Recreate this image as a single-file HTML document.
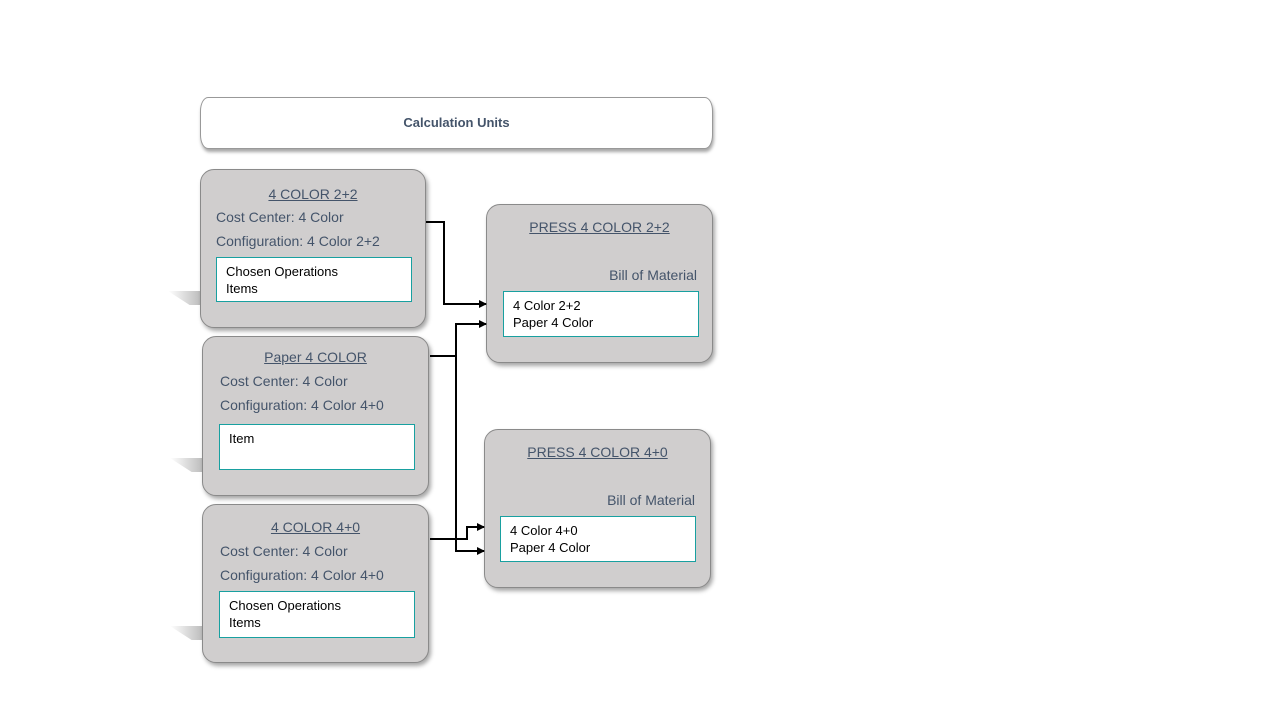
<!DOCTYPE html>
<html><head><meta charset="utf-8"><style>
body{margin:0;width:1280px;height:720px;background:#fff;position:relative;overflow:hidden;font-family:"Liberation Sans",sans-serif}
.hdr{position:absolute;left:200px;top:97px;width:511px;height:50px;border:1px solid #999;border-radius:8px/14px;background:#fff;box-shadow:1px 3px 3px rgba(0,0,0,.35);text-align:center;line-height:50px;font-weight:bold;font-size:13px;color:#44546a}
.box{position:absolute;background:#d0cece;border:1px solid #8a8a8a;border-radius:14px;box-shadow:2px 3px 4px rgba(0,0,0,.35);color:#44546a;font-size:14px}
.t{position:absolute;left:0;right:0;text-align:center;text-decoration:underline}
.l{position:absolute;left:15px;white-space:nowrap}
.r{position:absolute;right:15px;white-space:nowrap}
.in{position:absolute;background:#fff;border:1px solid #18a0a0;color:#000;font-size:13px;line-height:17px;padding:5px 9px;box-sizing:border-box}
.sh{position:absolute;width:36px;height:14px;background:linear-gradient(to right,rgba(255,255,255,0),rgba(150,150,150,.7));clip-path:polygon(0 0,100% 0,100% 100%,60% 100%)}
</style></head><body>
<div class="hdr">Calculation Units</div>

<div class="sh" style="left:168px;top:291px"></div>
<div class="sh" style="left:170px;top:458px"></div>
<div class="sh" style="left:170px;top:626px"></div>

<div class="box" style="left:200px;top:169px;width:224px;height:157px">
<div class="t" style="top:16px">4 COLOR 2+2</div>
<div class="l" style="top:39px">Cost Center: 4 Color</div>
<div class="l" style="top:63px">Configuration: 4 Color 2+2</div>
<div class="in" style="left:15px;top:87px;width:196px;height:45px">Chosen Operations<br>Items</div>
</div>

<div class="box" style="left:202px;top:336px;width:225px;height:158px">
<div class="t" style="top:12px">Paper 4 COLOR</div>
<div class="l" style="top:36px;left:17px">Cost Center: 4 Color</div>
<div class="l" style="top:60px;left:17px">Configuration: 4 Color 4+0</div>
<div class="in" style="left:16px;top:87px;width:196px;height:46px">Item</div>
</div>

<div class="box" style="left:202px;top:504px;width:225px;height:157px">
<div class="t" style="top:14px">4 COLOR 4+0</div>
<div class="l" style="top:38px;left:17px">Cost Center: 4 Color</div>
<div class="l" style="top:62px;left:17px">Configuration: 4 Color 4+0</div>
<div class="in" style="left:16px;top:86px;width:196px;height:47px">Chosen Operations<br>Items</div>
</div>

<div class="box" style="left:486px;top:204px;width:225px;height:157px">
<div class="t" style="top:14px">PRESS 4 COLOR 2+2</div>
<div class="r" style="top:62px">Bill of Material</div>
<div class="in" style="left:16px;top:86px;width:196px;height:46px">4 Color 2+2<br>Paper 4 Color</div>
</div>

<div class="box" style="left:484px;top:429px;width:225px;height:157px">
<div class="t" style="top:14px">PRESS 4 COLOR 4+0</div>
<div class="r" style="top:62px">Bill of Material</div>
<div class="in" style="left:15px;top:86px;width:196px;height:46px">4 Color 4+0<br>Paper 4 Color</div>
</div>

<svg width="1280" height="720" style="position:absolute;left:0;top:0" fill="none" stroke="#000" stroke-width="2">
<defs><marker id="a" markerWidth="8" markerHeight="8" refX="7" refY="4" orient="auto" markerUnits="userSpaceOnUse"><path d="M0,0 L8,4 L0,8z" fill="#000" stroke="none"/></marker></defs>
<polyline points="426,222 444,222 444,304 486,304" marker-end="url(#a)"/>
<polyline points="430,356 456,356"/>
<polyline points="456,551 456,324 486,324" marker-end="url(#a)"/>
<polyline points="456,540 456,551 484,551" marker-end="url(#a)"/>
<polyline points="430,539 467,539 467,527 484,527" marker-end="url(#a)"/>
</svg>
</body></html>
